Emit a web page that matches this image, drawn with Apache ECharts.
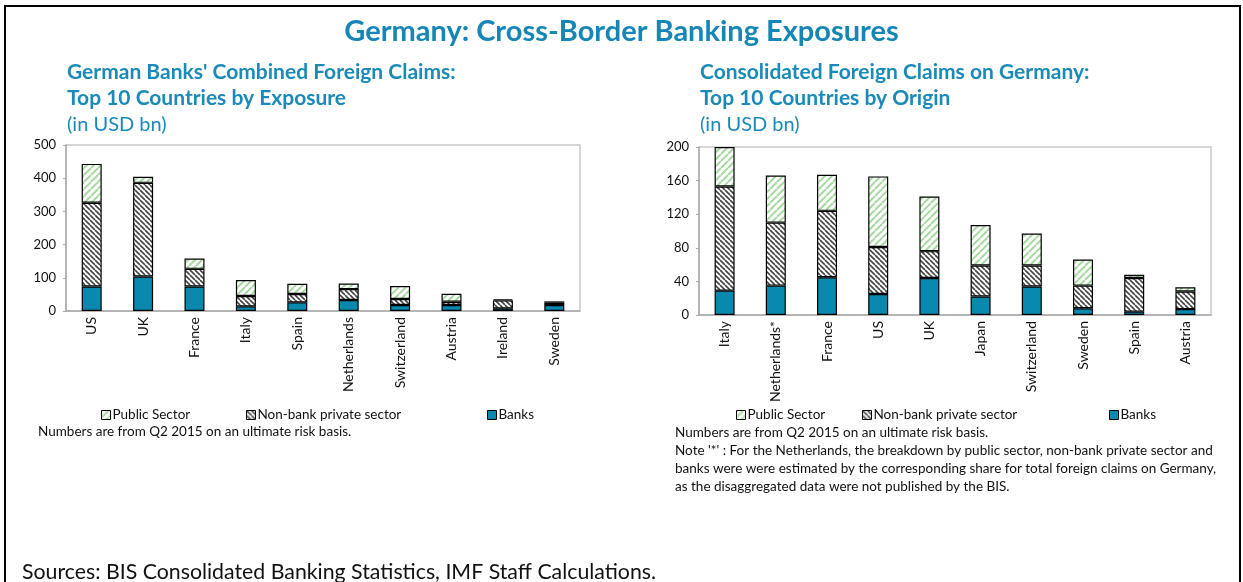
<!DOCTYPE html>
<html><head><meta charset="utf-8">
<script src="https://cdn.jsdelivr.net/npm/echarts@6/dist/echarts.min.js"></script>
<style>html,body{margin:0;padding:0;background:#fff}#c{width:1243px;height:582px}</style>
</head><body><div id="c"></div>
<script>
// Left chart: German banks' combined foreign claims (USD bn)
const leftCategories = ['US','UK','France','Italy','Spain','Netherlands','Switzerland','Austria','Ireland','Sweden'];
const leftBanks   = [74, 104, 74, 14, 26, 33, 18, 18, 8, 18];
const leftNonBank = [252, 282, 53, 31, 25, 33, 18, 10, 24, 7];
const leftPublic  = [117, 18, 31, 48, 31, 17, 39, 24, 3, 4];
// Right chart: consolidated foreign claims on Germany (USD bn)
const rightCategories = ['Italy','Netherlands*','France','US','UK','Japan','Switzerland','Sweden','Spain','Austria'];
const rightBanks   = [29, 35, 45, 25, 44, 22, 34, 8, 4, 7];
const rightNonBank = [124, 75, 79, 56, 32, 37, 25, 27, 40, 21];
const rightPublic  = [47, 56, 43, 84, 65, 48, 38, 31, 4, 5];
const leftTicks = [0, 100, 200, 300, 400, 500];
const rightTicks = [0, 40, 80, 120, 160, 200];
const legendNames = ['Public Sector', 'Non-bank private sector', 'Banks'];

const TEAL = '#0a89ae';
const FONT = 'Lato, "Open Sans", sans-serif';

function stripes(color, dir, size, lw) {
  const c = document.createElement('canvas');
  c.width = size; c.height = size;
  const g = c.getContext('2d');
  g.fillStyle = '#fff'; g.fillRect(0, 0, size, size);
  g.strokeStyle = color; g.lineWidth = lw;
  g.beginPath();
  for (let k = -1; k <= 1; k++) {
    if (dir > 0) { g.moveTo(k*size, size); g.lineTo(k*size + size, 0); }
    else { g.moveTo(k*size, 0); g.lineTo(k*size + size, size); }
  }
  g.stroke();
  return { image: c, repeat: 'repeat' };
}
const greenPat = stripes('#a8d9a2', 1, 7, 2);
const grayPat = stripes('#444', -1, 5, 1.6);
const legendStyles = [
  { color: greenPat, borderColor: '#000', borderWidth: 1 },
  { color: grayPat, borderColor: '#000', borderWidth: 1 },
  { color: TEAL, borderColor: '#000', borderWidth: 1 }
];

const chart = echarts.init(document.getElementById('c'), null, { renderer: 'canvas' });

function bars(idx, banks, nonbank, pub) {
  const base = { type: 'bar', stack: 's' + idx, xAxisIndex: idx, yAxisIndex: idx, barWidth: 20,
    itemStyle: { borderColor: '#000', borderWidth: 1.2 } };
  return [
    Object.assign({}, base, { name: legendNames[2], data: banks, itemStyle: Object.assign({}, base.itemStyle, { color: TEAL }) }),
    Object.assign({}, base, { name: legendNames[1], data: nonbank, itemStyle: Object.assign({}, base.itemStyle, { color: grayPat }) }),
    Object.assign({}, base, { name: legendNames[0], data: pub, itemStyle: Object.assign({}, base.itemStyle, { color: greenPat }) })
  ];
}

function xAxis(idx, cats) {
  return { type: 'category', gridIndex: idx, data: cats,
    axisLine: { lineStyle: { color: '#aaa', width: 1.5 } },
    axisTick: { inside: true, length: 4, lineStyle: { color: '#aaa' } },
    axisLabel: { rotate: 90, margin: 6, color: '#111', fontSize: 14, fontFamily: FONT, interval: 0 } };
}
function yAxis(idx, ticks) {
  return { type: 'value', gridIndex: idx, min: ticks[0], max: ticks[ticks.length-1], interval: ticks[1]-ticks[0],
    axisLine: { show: true, lineStyle: { color: '#aaa', width: 1.5 } },
    axisTick: { show: true, length: 3, lineStyle: { color: '#aaa' } },
    splitLine: { show: false },
    axisLabel: { margin: 10, color: '#111', fontSize: 13, fontFamily: FONT } };
}
function legendItem(i, left) {
  return { left: left, top: 408, padding: 0, itemWidth: 9, itemHeight: 9, icon: 'rect', selectedMode: false,
    textStyle: { fontSize: 13.5, color: '#111', fontFamily: FONT, padding: [0,0,0,-3] },
    data: [{ name: legendNames[i], itemStyle: legendStyles[i] }] };
}
const sub = { color: '#1a8ab8', fontSize: 21, fontWeight: 'bold', fontFamily: FONT, lineHeight: 26 };
const subN = { color: '#1a8ab8', fontSize: 20, fontWeight: 'normal', fontFamily: FONT };
const note = { color: '#111', fontSize: 13.5, fontWeight: 'normal', fontFamily: FONT, lineHeight: 18 };

chart.setOption({
  animation: false,
  title: [
    { text: 'Germany: Cross-Border Banking Exposures', left: 'center', top: 17, padding: 0,
      textStyle: { color: '#1686b6', fontSize: 29, fontWeight: 'bold', fontFamily: FONT } },
    { text: "German Banks' Combined Foreign Claims:\nTop 10 Countries by Exposure", left: 67, top: 59, padding: 0, textStyle: sub },
    { text: '(in USD bn)', left: 67, top: 115, padding: 0, textStyle: subN },
    { text: "Consolidated Foreign Claims on Germany:\nTop 10 Countries by Origin", left: 700, top: 59, padding: 0, textStyle: sub },
    { text: '(in USD bn)', left: 700, top: 115, padding: 0, textStyle: subN },
    { text: 'Numbers are from Q2 2015 on an ultimate risk basis.', left: 38, top: 423, padding: 0, textStyle: note },
    { text: "Numbers are from Q2 2015 on an ultimate risk basis.\nNote '*' : For the Netherlands, the breakdown by public sector, non-bank private sector and\nbanks were were estimated by the corresponding share for total foreign claims on Germany,\nas the disaggregated data were not published by the BIS.", left: 675, top: 424, padding: 0, textStyle: note },
    { text: 'Sources: BIS Consolidated Banking Statistics, IMF Staff Calculations.', left: 22, top: 562, padding: 0,
      textStyle: { color: '#111', fontSize: 21.3, fontWeight: 'normal', fontFamily: FONT } }
  ],
  legend: [legendItem(0, 101), legendItem(1, 246), legendItem(2, 487),
           legendItem(0, 736), legendItem(1, 862), legendItem(2, 1109)],
  grid: [
    { left: 66, top: 145, width: 514, height: 166, show: true, borderColor: '#c8c8c8', borderWidth: 1.5, backgroundColor: '#fff' },
    { left: 699, top: 147, width: 512, height: 168, show: true, borderColor: '#c8c8c8', borderWidth: 1.5, backgroundColor: '#fff' }
  ],
  xAxis: [xAxis(0, leftCategories), xAxis(1, rightCategories)],
  yAxis: [yAxis(0, leftTicks), yAxis(1, rightTicks)],
  graphic: [
    { type: 'polyline', shape: { points: [[5, 582], [5, 6], [1240, 6], [1240, 582]] }, style: { stroke: '#000', lineWidth: 2, fill: null } }
  ],
  series: [].concat(bars(0, leftBanks, leftNonBank, leftPublic), bars(1, rightBanks, rightNonBank, rightPublic))
});
</script></body></html>
